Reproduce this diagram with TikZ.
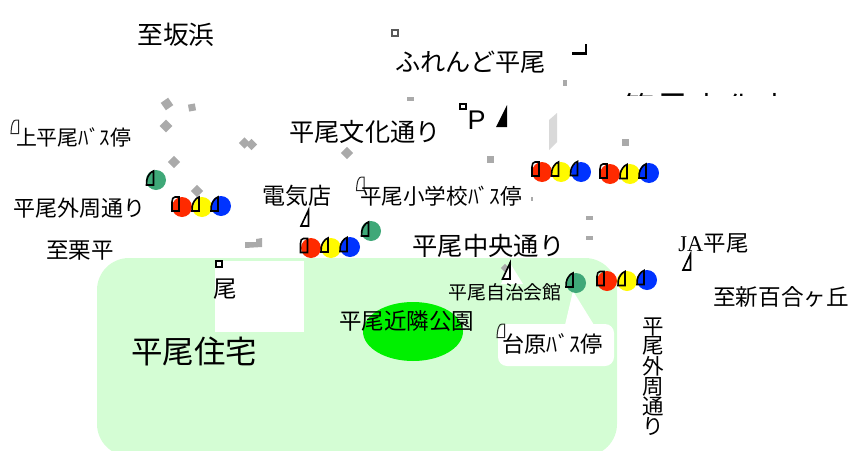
\documentclass[tikz,border=0pt]{standalone}
\usepackage{fontspec}
\usetikzlibrary{shapes.geometric}
\setmainfont{Noto Sans CJK JP}
\newfontfamily\serifla{Liberation Serif}
\newfontfamily\sansla{Liberation Sans}
\definecolor{parkbg}{HTML}{D4FDD4}
\definecolor{parkgreen}{HTML}{00F000}
\definecolor{busred}{HTML}{FF2A00}
\definecolor{busyellow}{HTML}{FFFA00}
\definecolor{busblue}{HTML}{0033FF}
\definecolor{busgreen}{HTML}{3FA878}
\definecolor{bldgrey}{HTML}{AAAAAA}
\definecolor{lightbld}{HTML}{D9D9D9}
\tikzset{
  x=1pt,y=-1pt,
  dot/.style={circle,inner sep=0pt,minimum size=20pt,draw=none},
  lbl/.style={inner sep=0pt,font=\fontsize{#1}{#1}\selectfont},
  lbl/.default=22,
  greysq/.style={rectangle,inner sep=0pt,fill=bldgrey,minimum size=#1},
  tinybox/.style={rectangle,inner sep=0pt,fill=white,draw=#1,line width=2pt,minimum size=5.5pt},
  thickmark/.style={draw=black,line width=1.6pt,line join=miter},
  thinmark/.style={draw=black!85,line width=1pt},
  busmark/.pic={\path[pic actions] (0,14) -- (7,14) -- (7,0) .. controls (4,1) and (1,5) .. (0.3,9) -- cycle;},
  thinbus/.pic={\path[pic actions] (0,13.5) -- (7.5,13.5) -- (7.5,0) -- (5,0) .. controls (2,0) and (0.5,4) .. cycle;},
  roundmark/.pic={\path[pic actions] (0,14) -- (7,14) -- (7,0) -- (3,0) .. controls (1,0) and (0,2) .. (0,5) -- cycle;},
  trimark/.pic={\path[pic actions] (0,16) -- (7.5,16) -- (7.5,0) -- cycle;}
}
\begin{document}
\begin{tikzpicture}
\useasboundingbox (0,0) rectangle (849,450);
\clip (0,0) rectangle (849,450);
% park area and white cut-outs
\fill[parkbg,rounded corners=32pt] (97,258) rectangle (617,456);
\fill[white] (215,261) rectangle (304,332);
\fill[white,rounded corners=9pt] (498,324) rectangle (614,366);
\fill[white] (573,291) -- (594,325) -- (565,325) -- cycle;
\fill[white] (510,263) -- (523,284) -- (501,284) -- cycle;
\node[ellipse,inner sep=0pt,minimum width=100pt,minimum height=59pt,fill=parkgreen] (park) at (413,331.5) {};
% grey buildings
\node[greysq=9pt,rotate=35] (g1) at (167,104) {};
\node[greysq=7pt,rotate=10] (g2) at (192,107.5) {};
\node[greysq=9pt,rotate=45] (g3) at (166,126) {};
\node[greysq=8.5pt,rotate=45] (g4) at (174,162) {};
\node[greysq=8.5pt,rotate=45] (g5) at (197,191) {};
\node[greysq=8pt,rotate=45] (g6) at (244.5,143) {};
\node[greysq=8pt,rotate=45] (g7) at (251.5,144.5) {};
\node[greysq=8.5pt,rotate=45] (g8) at (347,153) {};
\node[greysq=7pt] (g9) at (490,159) {};
\node[greysq=7pt] (g10) at (625,142) {};
\node[fill=bldgrey,inner sep=0pt,minimum width=7pt,minimum height=4pt] (g11) at (410,99) {};
\node[fill=bldgrey,inner sep=0pt,minimum width=3.5pt,minimum height=6pt] (g12) at (565,83) {};
\node[fill=bldgrey,inner sep=0pt,minimum width=7pt,minimum height=4pt] (g13) at (589,218) {};
\node[fill=bldgrey,inner sep=0pt,minimum width=7pt,minimum height=4pt] (g14) at (589,238) {};
\node[fill=bldgrey,inner sep=0pt,minimum width=2pt,minimum height=4pt] (g15) at (532,199) {};
\node[greysq=6pt,rotate=45] (g16) at (505,268) {};
\fill[bldgrey] (245,242) -- (256,242) -- (256,239) -- (262,238) -- (262,247) -- (245,248) -- cycle;
\fill[lightbld] (549,120) -- (557,113) -- (557,142) -- (549,150) -- cycle;
% top-right clipped label
\begin{scope}
\clip (620,85) rectangle (790,95.7);
\node[inner sep=0pt,anchor=center,font=\fontsize{31}{31}\selectfont] (clipped) at (707,108) {第\hspace{3pt}\raisebox{4.5pt}{二}\hspace{3pt}中\hspace{3pt}化\hspace{3pt}中};
\end{scope}
% route dots
\node[dot,fill=busred] (r1) at (182,207) {};
\node[dot,fill=busyellow] (y1) at (202,207) {};
\node[dot,fill=busblue] (b1) at (221,206) {};
\node[dot,fill=busred] (r2) at (311,248) {};
\node[dot,fill=busyellow] (y2) at (331,248) {};
\node[dot,fill=busblue] (b2) at (350,247) {};
\node[dot,fill=busred] (r3) at (542,172) {};
\node[dot,fill=busyellow] (y3) at (561,172) {};
\node[dot,fill=busblue] (b3) at (581,172) {};
\node[dot,fill=busred] (r4) at (610,174) {};
\node[dot,fill=busyellow] (y4) at (630,174) {};
\node[dot,fill=busblue] (b4) at (649,173) {};
\node[dot,fill=busred] (r5) at (607,281) {};
\node[dot,fill=busyellow] (y5) at (627,281) {};
\node[dot,fill=busblue] (b5) at (647,280) {};
\node[dot,fill=busgreen] (g21) at (156,180) {};
\node[dot,fill=busgreen] (g22) at (371,231) {};
\node[dot,fill=busgreen] (g23) at (576,283) {};
% stop marks on dots
\foreach \px/\py in {172/197,300.5/238.5,532/162,600/164,597/271.5}
  \pic[thickmark] at (\px,\py) {roundmark};
\foreach \px/\py in {192/197,211/197,321/238,340/237.5,551.5/162,570.5/161.5,620/164.5,639/164,618/271.5,637/270.5,146.5/171,361.5/222,566/273}
  \pic[thickmark] at (\px,\py) {busmark};
\foreach \px/\py in {11/120,356.5/177,497/324}
  \pic[thinmark] at (\px,\py) {thinbus};
\pic[thickmark] at (301,210) {trimark};
\pic[thickmark] at (683,254) {trimark};
\pic[thickmark] at (502.5,263) {trimark};
\fill[black] (496,127) -- (507,127) -- (507,105) -- cycle;
\draw[black,line width=2.6pt] (572,53.7) -- (586,53.7) -- (586,44);
% tiny boxes
\node[tinybox=black!65] (box1) at (395,33) {};
\node[tinybox=black] (box2) at (463,106.5) {};
\node[tinybox=black] (box3) at (219,264) {};
% labels
\node[lbl=25.7] (t1) at (176,34.5) {至坂浜};
\node[lbl=20.9] (t2) at (73.5,137) {上平尾ﾊﾞｽ停};
\node[lbl=22] (t3) at (79,208) {平尾外周通り};
\node[lbl=22.5] (t4) at (80,251) {至栗平};
\node[lbl=23] (t5) at (296.5,196) {電気店};
\node[lbl=25.2] (t6) at (365,132) {平尾文化通り};
\node[lbl=25.2] (t7) at (470.5,62) {ふれんど平尾};
\node[lbl=21.6] (t8) at (441,196) {平尾小学校ﾊﾞｽ停};
\node[lbl=25.3] (t9) at (488.5,246) {平尾中央通り};
\node[lbl=18.9] (t10) at (505,292) {平尾自治会館};
\node[lbl=22.5] (t11) at (406.5,321) {平尾近隣公園};
\node[lbl=22.2] (t12) at (552.5,344) {台原ﾊﾞｽ停};
\node[lbl=31.5] (t13) at (194,351) {平尾住宅};
\node[lbl=23.5] (t14) at (225,289.5) {尾};
\node[inner sep=0pt,font=\fontsize{27}{27}\sansla] (t15) at (476.5,120) {P};
\node[lbl=22.5] (t16) at (713.5,243) {{\serifla JA}\hspace{0.5pt}平尾};
\node[lbl=22.6] (t17) at (781,297) {至新百合ヶ丘};
\node[inner sep=0pt,align=center,font=\fontsize{21.5}{18.3}\selectfont] (t18) at (653.5,376.5) {平\\尾\\外\\周\\通\\り};
\end{tikzpicture}
\end{document}
